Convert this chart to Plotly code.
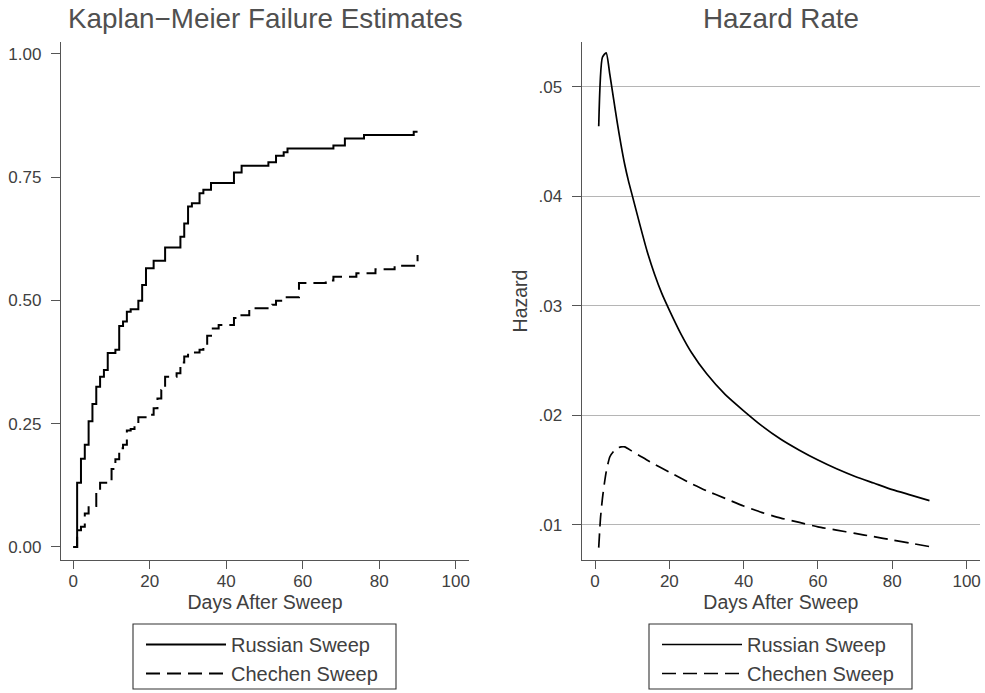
import plotly.graph_objects as go

# ---------------- data ----------------
km_russian_days = [0, 1, 2, 3, 4, 5, 6, 7, 8, 9, 11, 12, 13, 14, 15, 17, 18, 19, 21, 24, 28, 29,
                   30, 31, 33, 34, 36, 42, 44, 51, 53, 55, 56, 68, 71, 76, 89, 90]
km_russian_fail = [0, 0.130, 0.179, 0.207, 0.255, 0.290, 0.325, 0.345, 0.359, 0.393, 0.400, 0.448,
                   0.457, 0.477, 0.482, 0.499, 0.531, 0.565, 0.580, 0.607, 0.629, 0.656, 0.690,
                   0.697, 0.717, 0.724, 0.738, 0.759, 0.773, 0.780, 0.793, 0.800, 0.808, 0.814,
                   0.828, 0.835, 0.842, 0.842]

km_chechen_days = [0, 1, 2, 3, 4, 6, 7, 10, 11, 12, 13, 14, 15, 16, 17, 20, 21, 22, 23, 24, 27, 28,
                   29, 30, 33, 34, 35, 36, 38, 42, 43, 46, 52, 53, 55, 59, 66, 68, 74, 79, 84, 90]
km_chechen_fail = [0, 0.034, 0.041, 0.068, 0.083, 0.114, 0.130, 0.158, 0.178, 0.200, 0.207, 0.236,
                   0.239, 0.251, 0.263, 0.268, 0.281, 0.301, 0.318, 0.345, 0.352, 0.374, 0.386,
                   0.394, 0.400, 0.409, 0.428, 0.443, 0.450, 0.464, 0.470, 0.484, 0.491, 0.499,
                   0.506, 0.535, 0.540, 0.548, 0.555, 0.563, 0.570, 0.592]

hz_russian_days = [1, 2, 3, 4, 5, 6, 7, 8, 9, 10, 12, 14, 16, 18, 20, 23, 26, 30, 35, 40, 45, 50,
                   55, 60, 65, 70, 75, 80, 85, 90]
hz_russian_rate = [0.0464, 0.0527, 0.0531, 0.0511, 0.0489, 0.0467, 0.0447, 0.0429, 0.0414, 0.0401,
                   0.0375, 0.0350, 0.0329, 0.0311, 0.0296, 0.0275, 0.0257, 0.0238, 0.0219, 0.0204,
                   0.0190, 0.0178, 0.0168, 0.0159, 0.0151, 0.0144, 0.0138, 0.0132, 0.0127, 0.0122]

hz_chechen_days = [1, 1.5, 2, 2.5, 3, 4, 5, 6, 7, 8, 10, 12, 15, 20, 25, 30, 35, 40, 45, 50, 55,
                   60, 65, 70, 75, 80, 85, 90]
hz_chechen_rate = [0.0079, 0.0107, 0.0124, 0.0137, 0.0148, 0.0162, 0.0167, 0.0170, 0.0171, 0.0171,
                   0.0167, 0.0163, 0.0157, 0.0148, 0.0139, 0.0131, 0.0124, 0.0117, 0.0111, 0.0106,
                   0.0102, 0.0098, 0.0095, 0.0092, 0.0089, 0.0086, 0.0083, 0.0080]

x_ticks = [0, 20, 40, 60, 80, 100]
km_ticks = [0, 0.25, 0.5, 0.75, 1.0]
km_tick_text = ["0.00", "0.25", "0.50", "0.75", "1.00"]
hz_ticks = [0.01, 0.02, 0.03, 0.04, 0.05]
hz_tick_text = [".01", ".02", ".03", ".04", ".05"]
series_names = ["Russian Sweep", "Chechen Sweep"]

# ---------------- layout helpers ----------------
W, H = 985, 693
FONT = "Liberation Sans, Arial, Helvetica, sans-serif"
AX = "#555555"
GRID = "#b5b5b5"
TXT = "#404040"


def fx(px):
    return px / W


def fy(py):
    return 1 - py / H


SOLID = "solid"
DASH = "14px,7px"

fig = go.Figure()
fig.add_trace(go.Scatter(x=km_russian_days, y=km_russian_fail, mode="lines", line_shape="hv",
                         line=dict(color="black", width=2, dash=SOLID), name=series_names[0],
                         legend="legend", xaxis="x", yaxis="y"))
fig.add_trace(go.Scatter(x=km_chechen_days, y=km_chechen_fail, mode="lines", line_shape="hv",
                         line=dict(color="black", width=2, dash=DASH), name=series_names[1],
                         legend="legend", xaxis="x", yaxis="y"))
fig.add_trace(go.Scatter(x=hz_russian_days, y=hz_russian_rate, mode="lines", line_shape="spline",
                         line=dict(color="black", width=1.7, dash=SOLID, smoothing=0.6),
                         name=series_names[0], legend="legend2", xaxis="x2", yaxis="y2"))
fig.add_trace(go.Scatter(x=hz_chechen_days, y=hz_chechen_rate, mode="lines", line_shape="spline",
                         line=dict(color="black", width=1.7, dash=DASH, smoothing=0.6),
                         name=series_names[1], legend="legend2", xaxis="x2", yaxis="y2"))

ydom = [fy(560), fy(42)]
common_x = dict(tickvals=x_ticks, ticks="outside", ticklen=8, tickcolor=AX, tickwidth=1.3,
                showline=True, linecolor=AX, linewidth=1.3, showgrid=False, zeroline=False,
                automargin=False, ticklabelstandoff=-3,
                tickfont=dict(size=17, color=TXT, family=FONT),
                title=dict(text="Days After Sweep", font=dict(size=19.5, color=TXT, family=FONT),
                           standoff=4))
common_y = dict(ticks="outside", ticklen=9, tickcolor=AX, tickwidth=1.3, showline=True,
                linecolor=AX, linewidth=1.3, zeroline=False, ticklabelstandoff=6,
                automargin=False,
                tickfont=dict(size=17, color=TXT, family=FONT))

legend_common = dict(xanchor="left", yanchor="top", bgcolor="rgba(0,0,0,0)", borderwidth=0,
                     font=dict(size=20, color=TXT, family=FONT), itemwidth=80, tracegroupgap=0)

fig.update_layout(
    width=W, height=H, margin=dict(l=0, r=0, t=0, b=0),
    paper_bgcolor="white", plot_bgcolor="white",
    font=dict(family=FONT, color=TXT),
    xaxis=dict(domain=[fx(61), fx(469)], range=[-3.22, 103.45], anchor="y", **common_x),
    yaxis=dict(domain=ydom, range=[-0.0264, 1.0237], anchor="x", tickvals=km_ticks,
               ticktext=km_tick_text, showgrid=False, **common_y),
    yaxis3=dict(domain=ydom, range=[-0.0264, 1.0237], anchor="x", overlaying="y",
                tickvals=km_ticks[:-1], showticklabels=False, ticks="", showline=False,
                showgrid=True, gridcolor=GRID, gridwidth=1.2, zeroline=False, automargin=False),
    xaxis2=dict(domain=[fx(581.7), fx(980)], range=[-3.58, 103.6], anchor="y2", **common_x),
    yaxis2=dict(domain=ydom, range=[0.00677, 0.05409], anchor="x2", tickvals=hz_ticks,
                ticktext=hz_tick_text, showgrid=True, gridcolor=GRID, gridwidth=1.2,
                title=dict(text="Hazard", font=dict(size=19.5, color=TXT, family=FONT), standoff=5),
                **common_y),
    legend=dict(x=fx(141), y=fy(625), **legend_common),
    legend2=dict(x=fx(657), y=fy(625), **legend_common),
    showlegend=True,
    annotations=[
        dict(text="Kaplan\u2212Meier Failure Estimates", x=fx(265), y=fy(18), xref="paper",
             yref="paper", showarrow=False, xanchor="center", yanchor="middle",
             font=dict(size=27.8, color="#505050", family=FONT)),
        dict(text="Hazard Rate", x=fx(781), y=fy(18), xref="paper", yref="paper",
             showarrow=False, xanchor="center", yanchor="middle",
             font=dict(size=27.8, color="#505050", family=FONT)),
    ],
    shapes=[
        dict(type="rect", xref="paper", yref="paper", x0=fx(133), x1=fx(396), y0=fy(689),
             y1=fy(624), line=dict(color="#333333", width=1.1), fillcolor="rgba(0,0,0,0)"),
        dict(type="rect", xref="paper", yref="paper", x0=fx(649), x1=fx(912), y0=fy(689),
             y1=fy(624), line=dict(color="#333333", width=1.1), fillcolor="rgba(0,0,0,0)"),
    ],
)

fig.write_html("out.html", config={"displayModeBar": False},
               post_script="document.body.style.margin='0px';document.body.style.padding='0px';"
                           "document.body.style.overflow='hidden';")
